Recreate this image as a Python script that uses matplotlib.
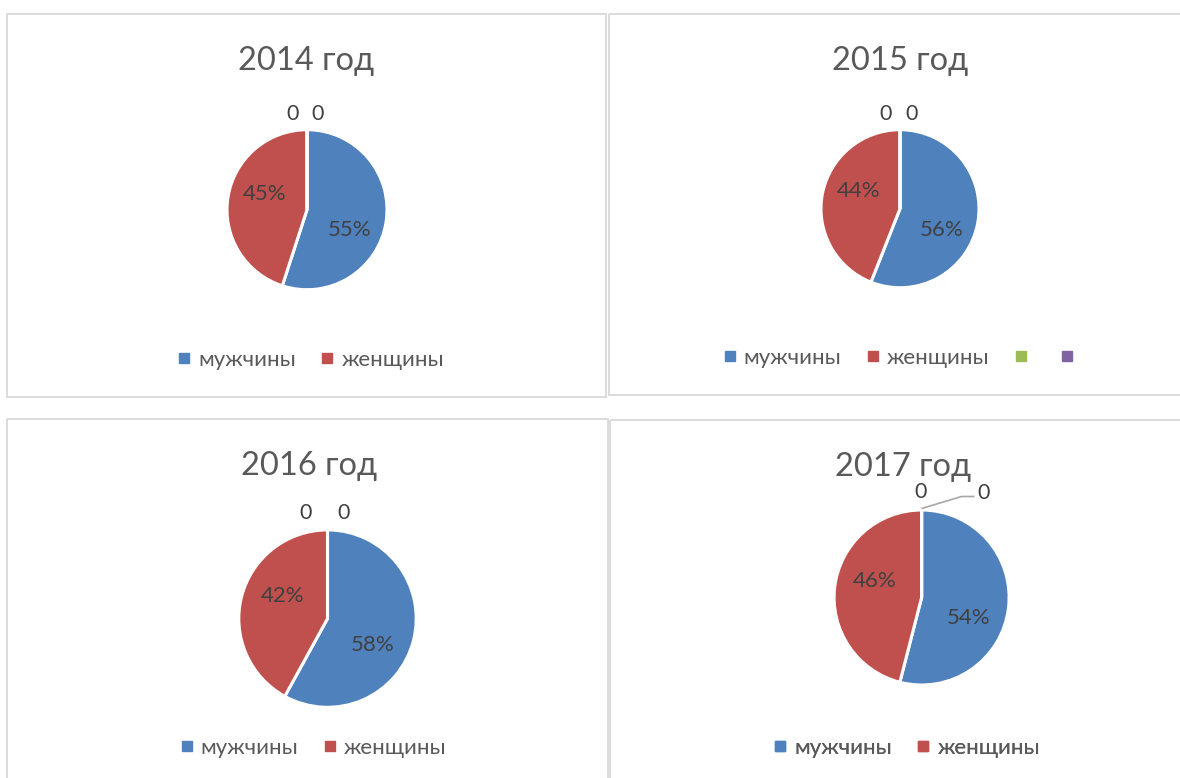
import numpy as np
import matplotlib
matplotlib.use("Agg")
import matplotlib.pyplot as plt
from matplotlib.lines import Line2D
from matplotlib.patches import Rectangle

plt.rcParams['font.family'] = ['Lato', 'DejaVu Sans']

# --- data ---
years = ['2014 год', '2015 год', '2016 год', '2017 год']
men = [55, 56, 58, 54]
women = [45, 44, 42, 46]
series3 = [0, 0, 0, 0]
series4 = [0, 0, 0, 0]
series_names = ['мужчины', 'женщины', '', '']
legend_count = [2, 4, 2, 2]

colors = ['#4F81BD', '#C0504D', '#9BBB59', '#8064A2']

# --- layout (pixels, image coords) ---
W, H = 1180, 778
panels = [(7, 14, 606, 397), (609, 14, 1196, 395), (7, 419, 608, 800), (610, 420, 1196, 800)]
centers = [(307, 209.7), (900, 208.7), (327.5, 618.6), (921.6, 597.5)]
radii = [80, 79, 88.7, 87.5]
title_pos = [(306.5, 70), (900, 69.5), (308.7, 475), (903, 476)]
legend_pos = [(311.5, 359.5), (902.5, 358), (314, 747.5), (907.5, 747.5)]
# label offsets (dx, dy up) of the two zero labels from the top of each pie
zero_offsets = [[(-14, 17), (11, 17)], [(-14, 17.5), (12, 17.5)],
                [(-22, 19), (16, 19)], [(-1.5, 20), (62, 18.5)]]
leader = [False, False, False, True]

TITLE_PT, LEG_PT, PCT_PT, ZERO_PT = 23.5, 16, 16, 15.5
PX = 100 / 72.0
DIGIT = 0.72


def baseline(yc, pt):
    # y of baseline so that digits are vertically centred at yc
    return yc + DIGIT * pt * PX / 2


fig = plt.figure(figsize=(W / 100, H / 100), dpi=100)
ax = fig.add_axes([0, 0, 1, 1])

for i in range(4):
    x0, y0, x1, y1 = panels[i]
    ax.add_patch(Rectangle((x0, y0), x1 - x0, y1 - y0, fill=False,
                           edgecolor='#D9D9D9', lw=1.3, zorder=0))

    vals = [men[i], women[i], series3[i], series4[i]]
    cx, cy = centers[i]
    r = radii[i]
    # y axis is inverted, so counterclock in data looks clockwise
    wedges, _ = ax.pie(vals, colors=colors, startangle=-90, counterclock=True,
                       center=(cx, cy), radius=r, frame=True,
                       wedgeprops=dict(edgecolor='white', linewidth=2.2))

    total = sum(vals)
    for w, v in zip(wedges[:2], vals[:2]):
        mid = np.deg2rad((w.theta1 + w.theta2) / 2 + 14)
        lx = cx + 0.58 * r * np.cos(mid)
        ly = cy + 0.58 * r * np.sin(mid)
        ax.text(lx, baseline(ly, PCT_PT), f"{100 * v / total:.0f}%", ha='center',
                va='baseline', fontsize=PCT_PT, color='#404040')

    top = (cx, cy - r)
    for k, (dx, dy) in enumerate(zero_offsets[i]):
        v = vals[2 + k]
        tx, ty = cx + dx, cy - r - dy
        ax.text(tx, baseline(ty, ZERO_PT), str(v), ha='center', va='baseline',
                fontsize=ZERO_PT, color='#404040')
        if leader[i] and k == 1:
            ax.plot([top[0], tx - 22, tx - 9], [top[1] - 1.5, ty + 5, ty + 5],
                    color='#A6A6A6', lw=1.2, solid_capstyle='butt')

    tx, ty = title_pos[i]
    ax.text(tx, ty, years[i], ha='center', va='baseline', fontsize=TITLE_PT,
            color='#595959')

    n = legend_count[i]
    handles = [Line2D([], [], marker='s', ls='none', markersize=6.5,
                      markerfacecolor=colors[j], markeredgecolor=colors[j])
               for j in range(n)]
    lg = ax.legend(handles, series_names[:n], loc='center', ncol=n,
                   bbox_to_anchor=legend_pos[i], bbox_transform=ax.transData,
                   frameon=False, fontsize=LEG_PT, handlelength=0.45,
                   handletextpad=0.4, columnspacing=1.2, borderpad=0,
                   labelcolor='#595959')
    ax.add_artist(lg)

ax.set_xlim(0, W)
ax.set_ylim(H, 0)
ax.set_aspect('auto')
ax.axis('off')

fig.savefig('out.png', dpi=100, facecolor='white')
